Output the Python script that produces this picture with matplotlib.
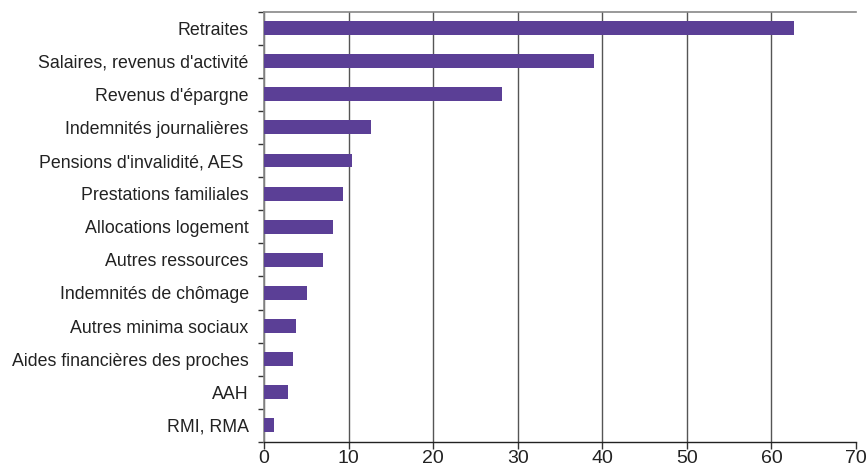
import matplotlib
matplotlib.use("Agg")
import matplotlib.pyplot as plt
import numpy as np

categories = ["Retraites", "Salaires, revenus d'activité", "Revenus d'épargne",
              "Indemnités journalières", "Pensions d'invalidité, AES ",
              "Prestations familiales", "Allocations logement", "Autres ressources",
              "Indemnités de chômage", "Autres minima sociaux",
              "Aides financières des proches", "AAH", "RMI, RMA"]
values = [62.7, 39.0, 28.1, 12.6, 10.4, 9.3, 8.2, 7.0, 5.1, 3.8, 3.45, 2.9, 1.2]
xticks = [0, 10, 20, 30, 40, 50, 60, 70]

plt.rcParams['font.family'] = ['Liberation Sans', 'DejaVu Sans']

fig = plt.figure(figsize=(8.66, 4.74), dpi=100)
ax = fig.add_axes([0.3048, 0.0675, 0.6837, 0.9082])

n = len(categories)
ypos = np.arange(n)[::-1]
ax.barh(ypos, values, height=0.42, color='#5B3F96', zorder=3)

ax.set_xlim(0, 70)
ax.set_ylim(-0.5, n - 0.5)
ax.set_xticks(xticks)
ax.set_xticklabels([str(t) for t in xticks], fontsize=14, color='#222222')
ax.set_yticks(ypos)
ax.set_yticklabels(categories, fontsize=12.8, color='#222222')
ax.set_yticks(np.arange(-0.5, n, 1), minor=True)
ax.tick_params(axis='y', which='major', length=0, pad=11)
ax.tick_params(axis='y', which='minor', direction='out', length=4, width=1, color='#333333')
ax.tick_params(axis='x', which='major', length=5, direction='out', width=1, color='#333333', pad=1)

ax.grid(axis='x', color='#555555', linewidth=1, zorder=0)
ax.set_axisbelow(True)
gl = ax.get_xgridlines()
gl[-1].set_visible(False)
ax.spines['right'].set_visible(False)
ax.spines['top'].set_color('#888888')
ax.spines['top'].set_linewidth(1.2)
ax.spines['left'].set_color('#888888')
ax.spines['left'].set_linewidth(1.2)
ax.spines['bottom'].set_color('#222222')
ax.spines['bottom'].set_linewidth(1)

fig.savefig('out.png', dpi=100)
